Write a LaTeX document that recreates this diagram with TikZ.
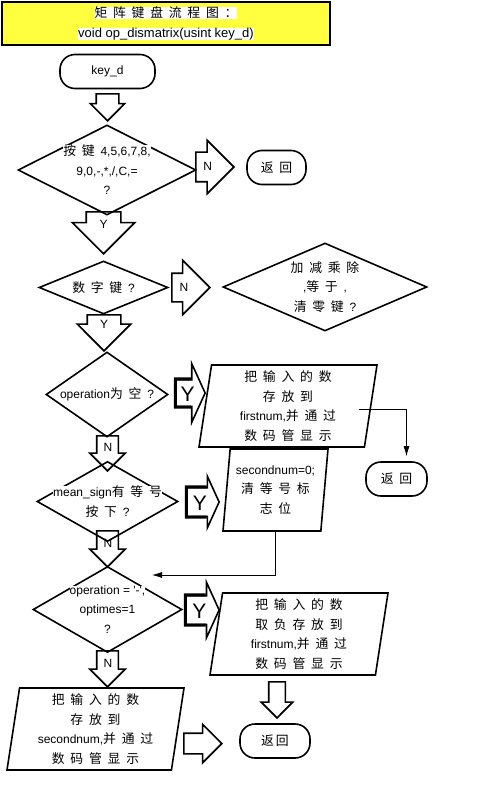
\documentclass[tikz,border=0pt]{standalone}
\usepackage{fontspec}
\setmainfont{Liberation Sans}
\newfontfamily\cjk{Noto Sans CJK SC}[WordSpace=2, Scale=1.07]
\newcommand{\zh}[1]{{\cjk #1}}
\newcommand{\wb}[1]{\colorbox{white}{#1}}
\usetikzlibrary{shapes.geometric,shapes.arrows,arrows.meta}
\definecolor{titley}{RGB}{255,255,64}
\setlength{\fboxsep}{0pt}

\begin{document}
\begin{tikzpicture}[x=1pt, y=-1pt, >={Latex[length=10pt,width=6pt]},
    every node/.style={font=\fontsize{12}{19.5}\selectfont, align=center},
    term/.style={draw, line width=1.6pt, rounded corners=15pt, minimum width=#1, minimum height=34pt, inner sep=0pt},
    cond/.style 2 args={draw, line width=1.6pt, diamond, minimum width=#1, minimum height=#2, inner sep=-15pt},
    io/.style 2 args={draw, line width=1.6pt, trapezium, trapezium left angle=76, trapezium right angle=104,
        trapezium stretches body, minimum width=#1, minimum height=#2, inner sep=-10pt},
    blk/.style={draw, line width=1.6pt, single arrow, text width=8pt, text height=8pt, text depth=0pt, inner sep=0pt},
    dnarrow/.style n args={3}{blk, shape border rotate=270, inner xsep={(#1-8)/2}, single arrow head extend={(#2-#1)/2}, minimum height=#3},
    rtarrow/.style n args={3}{blk, inner ysep={(#1-8)/2}, single arrow head extend={(#2-#1)/2}, minimum height=#3},
    yarrow/.style n args={3}{rtarrow={#1}{#2}{#3}, single arrow tip angle=131, text width=14pt, text height=16pt,
        inner ysep={(#1-16)/2}, font=\fontsize{21}{21}\selectfont}]
    \useasboundingbox (0,0) rectangle (480,805);
    \fill[white] (0,0) rectangle (480,805);

    % 1. 标题
    \node (title) [draw, line width=2pt, fill=titley, minimum width=328pt, minimum height=43pt] at (166,23.5)
        {\zh{\wb{矩 阵 键 盘 流 程 图 ：}}\\\wb{\fontsize{13}{19}\selectfont void op\_dismatrix(usint key\_d)}};

    % 2. 流程框
    \node (k) [term=95pt] at (107.5,71.5) {key\_d};
    \node (d1) [cond={178pt}{90pt}] at (107,170) {\wb{\zh{按 键 }4,5,6,7,8,}\\9,0,-,*,/,C,=\\?};
    \node (r1) [term=59pt] at (276.5,167.5) {\zh{返 回}};
    \node (d2) [cond={129pt}{53pt}] at (103.5,287.5) {\zh{数 字 键 }?};
    \node (d3) [cond={204pt}{88pt}] at (325,287) {\wb{\zh{加 减 乘 除}}\\,\zh{等 于 },\\\zh{清 零 键 }?};
    \node (d4) [cond={122pt}{85pt}] at (107,394.5) {operation\zh{为 空 }?};
    \node (p1) [io={178pt}{82pt}] at (288,406) {\zh{把 输 入 的 数}\\\zh{存 放 到}\\firstnum,\zh{并 通 过}\\\zh{数 码 管 显 示}};
    \node (r2) [term=61pt] at (396.5,479) {\zh{返 回}};
    \node (d5) [cond={141pt}{59pt}] at (107.5,501.5) {\wb{mean\_sign\zh{有 等 号}}\\\zh{按 下 }?};
    \node (p2) [io={105pt}{82pt}] at (275.5,490) {\wb{secondnum=0;}\\\zh{清 等 号 标}\\\zh{志 位}};
    \node (d6) [cond={149pt}{86pt}] at (107.5,609.5) {\wb{operation = \textquotesingle-\textquotesingle,}\\optimes=1\\?};
    \node (p3) [io={178pt}{82pt}] at (299,634) {\zh{把 输 入 的 数}\\\zh{取 负 存 放 到}\\firstnum,\zh{并 通 过}\\\zh{数 码 管 显 示}};
    \node (p4) [io={177pt}{82pt}] at (95.5,729) {\zh{把 输 入 的 数}\\\zh{存 放 到}\\secondnum,\zh{并 通 过}\\\zh{数 码 管 显 示}};
    \node (r3) [term=70pt] at (275,741) {\zh{返\hspace{2pt}回}};

    % 3. 块状箭头
    \node (a0) [dnarrow={21}{33}{27}, anchor=tip] at (107.5,122) {};
    \node (n1) [rtarrow={28}{52}{38}, anchor=tip] at (235,167) {N};
    \node (y1) [dnarrow={33}{61}{42}, anchor=tip] at (103.5,255) {Y};
    \node (n2) [rtarrow={27}{53}{38}, anchor=tip] at (211,287.5) {N};
    \node (y2) [dnarrow={32}{52}{36}, anchor=tip] at (104,352) {Y};
    \node (y3) [yarrow={25}{57}{29}, anchor=tip] at (206,393) {Y};
    \node (n3) [dnarrow={20}{34}{35}, anchor=tip] at (107.5,472) {N};
    \node (y4) [yarrow={27}{50}{32}, anchor=tip] at (220,502) {Y};
    \node (n4) [dnarrow={20}{34}{36}, anchor=tip] at (107.5,568) {N};
    \node (y5) [yarrow={27}{54}{33}, anchor=tip] at (220,610) {Y};
    \node (n5) [dnarrow={20}{34}{36}, anchor=tip] at (107.5,688) {N};
    \node (b1) [dnarrow={15}{30}{36}, anchor=tip] at (277,719) {};
    \node (b2) [rtarrow={19}{37}{38}, anchor=tip] at (223,743.5) {};
    \foreach \n in {y3,y4,y5}
        \draw[line width=3pt] (\n.after head) -- (\n.before tail) -- (\n.after tail) -- (\n.before head);

    % 4. 连线
    \coordinate (d6in) at (152,575);
    \draw[->, line width=0.8pt, shorten >=5pt] ([xshift=-13pt, yshift=-3pt]p1.east) -| ([xshift=10pt]r2.north);
    \draw[->, line width=0.8pt] (p2.south) |- (d6in);
\end{tikzpicture}
\end{document}
